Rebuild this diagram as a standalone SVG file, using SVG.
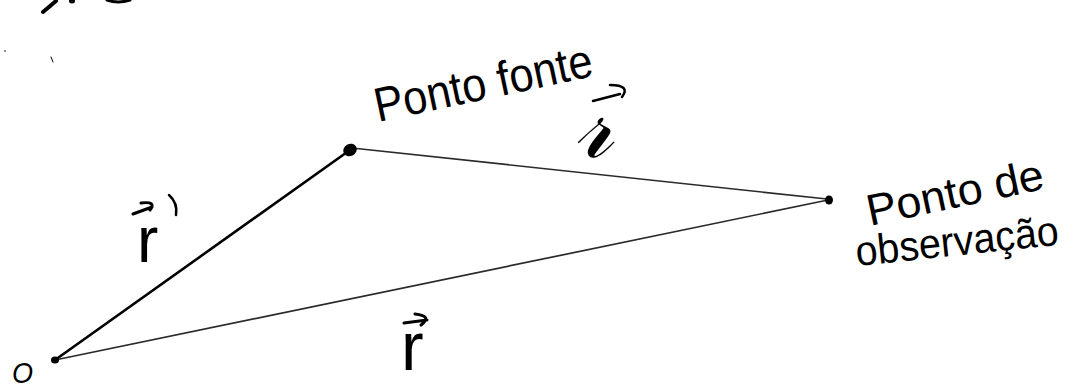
<svg xmlns="http://www.w3.org/2000/svg" width="1074" height="390" viewBox="0 0 1074 390">
<style>
.hand{font-family:"Liberation Sans","DejaVu Sans",sans-serif;fill:#000;}
.lbl{font-family:"Liberation Sans","DejaVu Sans",sans-serif;fill:#000;}
.ink{fill:none;stroke:#000;stroke-linecap:round;stroke-linejoin:round;}
.thin{stroke:#2a2a2a;stroke-width:1.7;fill:none;stroke-linecap:round;}
.thick{stroke:#000;stroke-width:2.6;fill:none;stroke-linecap:round;}
.dot{fill:#000;}
</style>
<rect width="1074" height="390" fill="#fff"/>
<g id="fragments">
<path class="ink" d="M43 12 L56 1" stroke-width="4"/>
<ellipse class="dot" cx="72" cy="1" rx="3" ry="2.5"/>
<path class="ink" d="M107 0 Q118 4 130 0" stroke-width="3"/>
<circle class="dot" cx="5" cy="51" r="0.8"/>
<path class="ink" d="M51 57 L53 62" stroke-width="1"/>
</g>
<g id="connectors">
<line class="thick" x1="55" y1="360" x2="350" y2="150"/>
<line class="thin" x1="352" y1="148" x2="827" y2="199"/>
<line class="thin" x1="55" y1="360" x2="828" y2="200"/>
</g>
<g id="origin">
<ellipse class="dot" cx="55" cy="360" rx="4" ry="3.5"/>
<text class="hand" x="12" y="383" font-size="30" font-style="italic" textLength="21" lengthAdjust="spacingAndGlyphs">O</text>
</g>
<g id="source-point">
<ellipse class="dot" cx="350" cy="150" rx="7" ry="6" transform="rotate(-30 350 150)"/>
<text class="hand" x="378" y="122" font-size="48" transform="rotate(-12 378 122)" textLength="222" lengthAdjust="spacingAndGlyphs">Ponto fonte</text>
</g>
<g id="observation-point">
<ellipse class="dot" cx="829" cy="200" rx="4" ry="4.5"/>
<text class="hand" x="870" y="226" font-size="44" transform="rotate(-12 870 226)" textLength="180" lengthAdjust="spacingAndGlyphs">Ponto de</text>
<text class="hand" x="857" y="266" font-size="42" transform="rotate(-6 857 266)" textLength="204" lengthAdjust="spacingAndGlyphs">observação</text>
</g>
<g id="label-r-prime">
<path class="ink" stroke-width="3" d="M133 214 L152 207 M141 203 Q157 201 150 210"/>
<path class="ink" stroke-width="2.5" d="M169 195 Q178 203 176 215"/>
<text class="lbl" x="137" y="262" font-size="64">r</text>
</g>
<g id="label-script-r">
<path class="ink" stroke-width="2.5" d="M593 101 L620 94 M610 85 Q631 85 622 97"/>
<text class="lbl" x="574" y="157" font-size="94" font-style="italic">𝓇</text>
</g>
<g id="label-r">
<path class="ink" stroke-width="3" d="M404 323 L427 320 M415 314 Q433 316 421 325"/>
<text class="lbl" x="401" y="370" font-size="68">r</text>
</g>
</svg>
